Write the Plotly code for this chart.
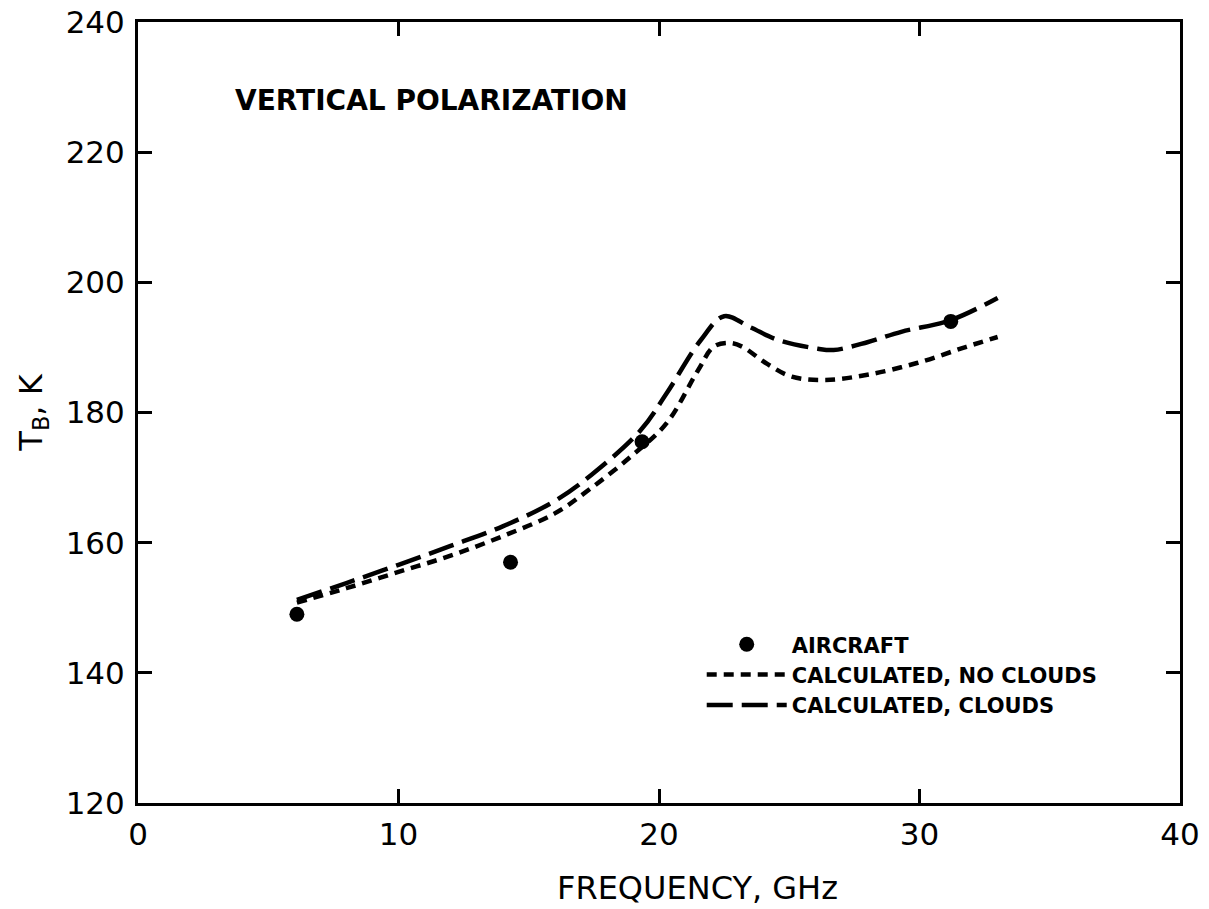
import plotly.graph_objects as go

# Aircraft measurements
air_freq = [6.1, 14.3, 19.35, 31.2]
air_tb = [149.0, 157.0, 175.5, 194.0]

# Calculated, no clouds
nc_freq = [6.1, 8, 10, 12, 14, 16, 17.4, 19, 20.3, 21.5, 22.1, 22.7, 23.2, 24.1, 25.1, 26.4, 28, 29.9, 31.8, 33]
nc_tb = [150.8, 153.0, 155.5, 158.0, 161.0, 164.5, 168.4, 173.5, 178.4, 186.5, 190.1, 190.7, 190.1, 187.6, 185.5, 185.0, 185.8, 187.6, 190.1, 191.6]

# Calculated, clouds
cl_freq = [6.1, 8, 10, 12, 14, 16, 17.4, 19.3, 20.3, 21.6, 22.5, 23.5, 24.6, 26.1, 26.7, 28, 29.3, 31.2, 33]
cl_tb = [151.2, 153.8, 156.6, 159.5, 162.5, 166.4, 170.4, 177.3, 183.0, 191.1, 194.8, 193.1, 191.1, 189.8, 189.6, 190.8, 192.4, 194.2, 197.6]

x_ticks = [0, 10, 20, 30, 40]
y_ticks = [120, 140, 160, 180, 200, 220, 240]

FONT = "DejaVu Sans"

fig = go.Figure()
fig.add_trace(go.Scatter(x=air_freq, y=air_tb, mode="markers", name="AIRCRAFT",
                         marker=dict(color="black", size=15)))
fig.add_trace(go.Scatter(x=nc_freq, y=nc_tb, mode="lines", name="CALCULATED, NO CLOUDS",
                         line=dict(color="black", width=4.5, dash="10px,7px", shape="spline")))
fig.add_trace(go.Scatter(x=cl_freq, y=cl_tb, mode="lines", name="CALCULATED, CLOUDS",
                         line=dict(color="black", width=4.5, dash="26px,9px", shape="spline")))

axis_common = dict(showline=True, linecolor="black", linewidth=3, mirror="allticks",
                   ticks="inside", ticklen=14, tickwidth=3, tickcolor="black",
                   showgrid=False, zeroline=False, automargin=False,
                   tickfont=dict(family=FONT, size=31, color="black"))

fig.update_xaxes(range=[0, 40], tickvals=x_ticks, ticktext=[str(v) for v in x_ticks],
                 ticklabelstandoff=2, **axis_common)
fig.update_yaxes(range=[120, 240], tickvals=y_ticks, ticktext=[str(v) for v in y_ticks],
                 ticklabelstandoff=4,
                 title=dict(text="T<sub>B</sub>, K", font=dict(family=FONT, size=32, color="black"), standoff=14),
                 **axis_common)

fig.add_annotation(text="FREQUENCY, GHz", xref="paper", yref="paper",
                   x=0.537, y=-0.109, xanchor="center", yanchor="middle", showarrow=False,
                   font=dict(family=FONT, size=32, color="black"))

fig.add_annotation(text="<b>VERTICAL POLARIZATION</b>", xref="paper", yref="paper",
                   x=0.091, y=0.900, xanchor="left", yanchor="middle", showarrow=False,
                   font=dict(family=FONT, size=28, color="black"))

fig.update_layout(
    width=1209, height=909,
    margin=dict(l=138, r=29, t=22, b=106, autoexpand=False),
    paper_bgcolor="white", plot_bgcolor="white",
    showlegend=True,
    legend=dict(x=0.541, y=0.229, xanchor="left", yanchor="top",
                bgcolor="rgba(0,0,0,0)", itemwidth=80,
                font=dict(family=FONT, size=21, color="black", weight="bold"),
                tracegroupgap=4),
)

fig.write_html("out.html")
